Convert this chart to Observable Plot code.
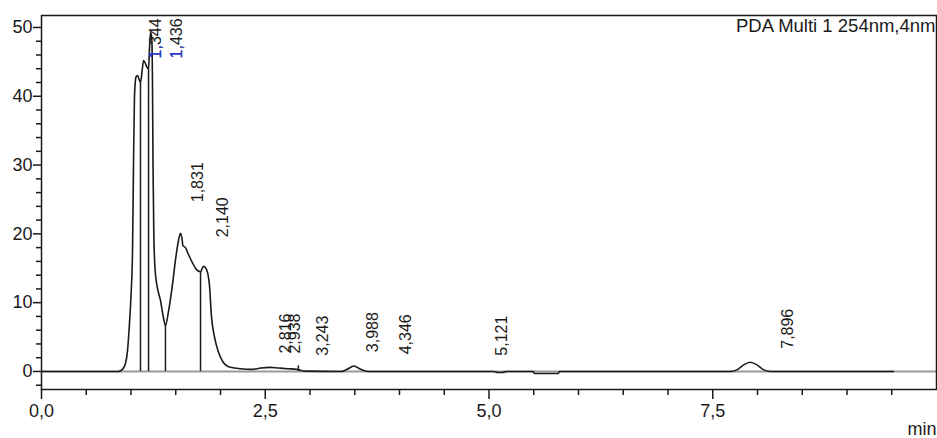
<!DOCTYPE html>
<html>
<head>
<meta charset="utf-8">
<script src="https://cdn.jsdelivr.net/npm/d3@7"></script>
<script src="https://cdn.jsdelivr.net/npm/@observablehq/plot@0.6"></script>
<style>
  html, body { margin: 0; padding: 0; background: #fff; overflow: hidden; }
  #chart svg { display: block; font-family: "Liberation Sans", Arial, sans-serif; }
</style>
</head>
<body>
<div id="chart"></div>
<script>
// Chromatogram trace (minutes, mAU)
const times = [0, 0.860, 0.905, 0.939, 0.961, 0.978, 1.000, 1.017, 1.028, 1.039, 1.056, 1.073, 1.095, 1.106,
  1.125, 1.140, 1.160, 1.175, 1.196, 1.207, 1.218, 1.232, 1.240, 1.246, 1.255, 1.268, 1.290, 1.330, 1.360, 1.385,
  1.420, 1.464, 1.500, 1.530, 1.553, 1.570, 1.580, 1.609, 1.642, 1.687, 1.732, 1.777, 1.810, 1.844, 1.877, 1.899,
  1.933, 1.978, 2.022, 2.089, 2.223, 2.350, 2.450, 2.550, 2.650, 2.750, 2.850, 2.950, 3.350, 3.420, 3.490, 3.560,
  3.650, 5.050, 5.100, 5.150, 5.200, 5.490, 5.510, 5.770, 5.790, 7.700, 7.780, 7.850, 7.920, 7.990, 8.060, 8.140, 9.520];
const signal = [0, 0, 0.3, 1.2, 3, 6, 11, 17.5, 30, 40, 42.8, 43, 42.3, 42,
  43.8, 45.2, 44.8, 44.3, 44, 47, 49.3, 48.5, 42, 30, 20, 15, 12.5, 10.3, 8, 6.7,
  8.8, 12.7, 16.5, 19, 20.1, 19.3, 18.3, 18, 17, 15.8, 14.8, 14.5, 15.3, 14.8, 12.5, 8,
  5, 2.8, 1.5, 0.7, 0.4, 0.3, 0.5, 0.6, 0.5, 0.4, 0.3, 0.05, 0, 0.35, 0.8, 0.35,
  0, 0, -0.15, -0.15, 0, 0, -0.3, -0.3, 0, 0, 0.3, 1.0, 1.35, 1.0, 0.3, 0, 0];

// Peak drop lines
const dropTimes = [1.106, 1.196, 1.385, 1.777, 2.870];
const dropTops = [42, 44, 6.7, 14.5, 0.8];

// Peak labels (retention times) and where they are printed
const peakLabels = ["1,344", "1,436", "1,831", "2,140", "2,816", "2,938", "3,243", "3,988", "4,346", "5,121", "7,896"];
const labelAt = [1.274, 1.508, 1.743, 2.022, 2.726, 2.830, 3.140, 3.698, 4.070, 5.140, 8.335];
const labelBase = [45.5, 45.5, 24.6, 19.5, 2.6, 2.6, 2.3, 2.8, 2.5, 2.3, 3.3];

// Axes
const yMajor = [0, 10, 20, 30, 40, 50];
const yMinor = d3.range(-2, 51, 2).filter(v => v % 10 !== 0);
const xMajor = [0, 2.5, 5, 7.5];
const xMinor = d3.range(0.5, 10, 0.5).filter(v => v % 2.5 !== 0);

const title = "PDA Multi 1 254nm,4nm";
const xUnit = "min";

const trace = times.map((t, i) => ({t, v: signal[i]}));
const drops = dropTimes.map((t, i) => ({t, top: dropTops[i]}));
const fmtX = d => d.toFixed(1).replace(".", ",");
const ink = "#1a1a1a";
const blank = () => "";

const chart = Plot.plot({
  width: 937,
  height: 438,
  marginLeft: 41,
  marginTop: 15,
  marginRight: 1,
  marginBottom: 49,
  x: {domain: [0, 10], axis: null},
  y: {domain: [-2.62, 51.74], axis: null},
  style: {fontFamily: '"Liberation Sans", Arial, sans-serif', background: "#fff"},
  marks: [
    Plot.ruleY([0], {stroke: "#999", strokeWidth: 2}),
    Plot.ruleX(drops, {x: "t", y1: 0, y2: "top", stroke: ink, strokeWidth: 1.5}),
    Plot.line(trace, {x: "t", y: "v", stroke: ink, strokeWidth: 1.6, curve: "monotone-x"}),
    Plot.frame({stroke: ink, strokeWidth: 1.5}),
    Plot.axisY(yMinor, {anchor: "left", tickSize: 5, tickFormat: blank, label: null, stroke: ink, strokeWidth: 1.5}),
    Plot.axisY(yMajor, {anchor: "left", tickSize: 8, tickPadding: 1, fontSize: 18, label: null, stroke: ink, fill: ink, strokeWidth: 1.5}),
    Plot.axisX(xMinor, {anchor: "bottom", tickSize: 6, tickFormat: blank, label: null, stroke: ink, strokeWidth: 1.5}),
    Plot.axisX(xMajor, {anchor: "bottom", tickSize: 10, tickPadding: 5, fontSize: 18, label: null, stroke: ink, fill: ink, strokeWidth: 1.5, tickFormat: fmtX}),
    Plot.text(peakLabels, {x: labelAt, y: labelBase, text: d => d, rotate: -90, textAnchor: "start", fontSize: 16, fill: ink}),
    Plot.text(peakLabels.slice(0, 2), {x: labelAt.slice(0, 2), y: labelBase.slice(0, 2), text: d => d.slice(0, 2), rotate: -90, textAnchor: "start", fontSize: 16, fill: "#2b3fe0"}),
    Plot.text([title], {frameAnchor: "top-right", textAnchor: "end", lineAnchor: "top", dx: -1, dy: 3, fontSize: 18.5, fill: ink}),
    Plot.text([xUnit], {frameAnchor: "bottom-right", textAnchor: "end", lineAnchor: "bottom", dx: 0, dy: 45, fontSize: 18, fill: ink})
  ]
});
document.getElementById("chart").append(chart);
</script>
</body>
</html>
